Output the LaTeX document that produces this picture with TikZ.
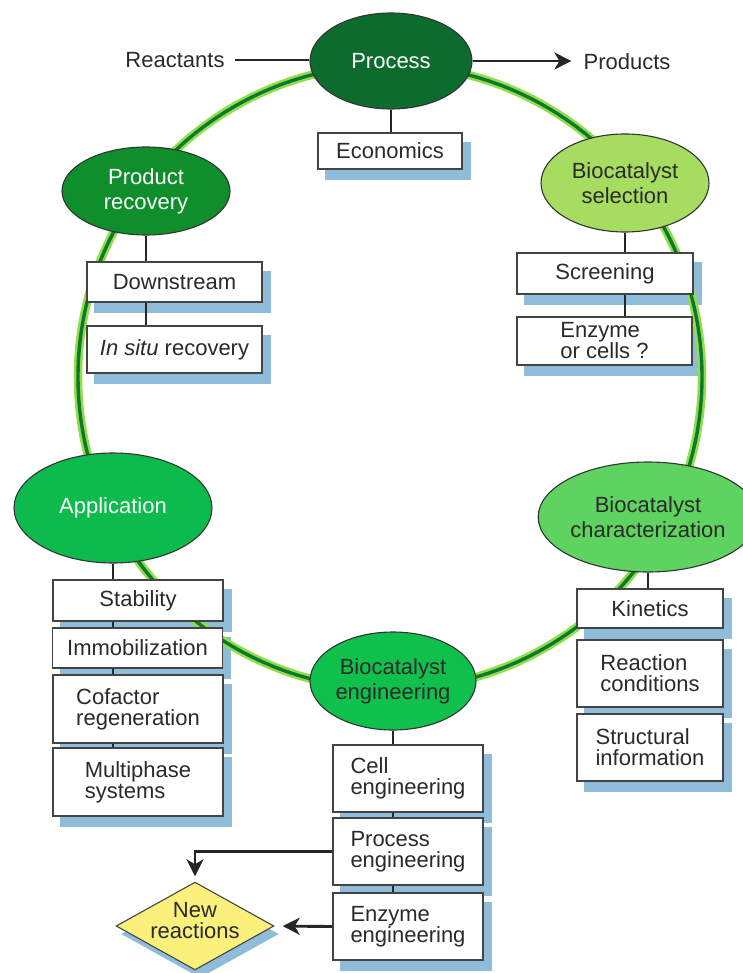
\documentclass[tikz,border=0pt]{standalone}
\usepackage{fontspec}
\setmainfont{Liberation Sans}
\usetikzlibrary{shapes.geometric,arrows.meta}
\pgfdeclarelayer{shadowlayer}
\pgfdeclarelayer{ringlayer}
\pgfsetlayers{shadowlayer,ringlayer,main}
\definecolor{procgreen}{HTML}{0C6B2D}
\definecolor{recgreen}{HTML}{0F8F2C}
\definecolor{selgreen}{HTML}{A6DD60}
\definecolor{chargreen}{HTML}{5ED35F}
\definecolor{appgreen}{HTML}{0CBB4B}
\definecolor{enggreen}{HTML}{10C04C}
\definecolor{ringlight}{HTML}{93DC4B}
\definecolor{ringdark}{HTML}{0B7A2C}
\definecolor{shadowblue}{HTML}{8EBCD9}
\definecolor{newyellow}{HTML}{FBF07C}
\definecolor{textgray}{HTML}{2A2A2A}
\definecolor{boxgray}{HTML}{444444}
\begin{document}
\begin{tikzpicture}[x=1pt,y=-1pt,
  txt/.style={font=\fontsize{22}{21}\selectfont, text=textgray, inner sep=0pt},
  bubble/.style={ellipse, draw=black!80, line width=1.1pt, inner sep=0pt, align=center,
    font=\fontsize{22}{25}\selectfont, text=textgray},
  box/.style={rectangle, draw=boxgray, line width=1.6pt, fill=white, inner sep=0pt,
    align=left, font=\fontsize{22}{21}\selectfont, text=textgray},
  link/.style={line width=2.9pt, draw=black!85},
  arr/.style={link, -{Stealth[length=17pt,width=17pt,inset=5pt]}}
]
\useasboundingbox (0,0) rectangle (742,973);

% ---- ellipses ----
\node[bubble, fill=procgreen, text=white, minimum width=162pt, minimum height=96pt] (process) at (391,61) {Process};
\node[bubble, fill=recgreen, text=white, minimum width=168pt, minimum height=88pt] (prodrec) at (146,191) {Product\\recovery};
\node[bubble, fill=selgreen, minimum width=168pt, minimum height=98pt] (select) at (625,183) {Biocatalyst\\selection};
\node[bubble, fill=chargreen, minimum width=190pt, minimum height=110pt] (charac) at (648,517) {Biocatalyst\\characterization};
\node[bubble, fill=appgreen, text=white, minimum width=198pt, minimum height=110pt] (applic) at (113,508) {Application};
\node[bubble, fill=enggreen, minimum width=166pt, minimum height=98pt] (bioeng) at (393,681) {Biocatalyst\\engineering};

% ---- side texts ----
\node[txt] (reactants) at (175,60) {Reactants};
\node[txt] (products) at (627,62) {Products};

% ---- boxes ----
\node[box, minimum width=144pt, minimum height=36pt] (econ) at (390,151) {Economics};
\node[box, minimum width=175pt, minimum height=40pt] (downstream) at (174.5,282) {Downstream};
\node[box, minimum width=175pt, minimum height=47pt] (insitu) at (174.5,349.5) {\textit{In situ} recovery};
\node[box, minimum width=176pt, minimum height=41pt] (screening) at (605,273.5) {Screening};
\node[box, minimum width=175pt, minimum height=48pt] (enzcells) at (604.5,341) {Enzyme\\or cells ?};
\node[box, minimum width=146pt, minimum height=39pt] (kinetics) at (650,608.5) {Kinetics};
\node[box, minimum width=146pt, minimum height=67pt] (reaccond) at (650,673.5) {Reaction\\conditions};
\node[box, minimum width=146pt, minimum height=67pt] (structinfo) at (650,747.5) {Structural\\information};
\node[box, minimum width=170pt, minimum height=41pt] (stability) at (138,600.5) {Stability};
\node[box, minimum width=170pt, minimum height=40pt] (immob) at (137.5,648) {Immobilization};
\node[box, minimum width=170pt, minimum height=68pt] (cofactor) at (138,709) {Cofactor\\regeneration};
\node[box, minimum width=170pt, minimum height=68pt] (multiphase) at (138,782) {Multiphase\\systems};
\node[box, minimum width=150pt, minimum height=67pt] (celleng) at (408,778.5) {Cell\\engineering};
\node[box, minimum width=150pt, minimum height=67pt] (proceng) at (408,851.5) {Process\\engineering};
\node[box, minimum width=150pt, minimum height=67pt] (enzeng) at (408,926.5) {Enzyme\\engineering};

% ---- diamond ----
\node[inner sep=0pt, minimum width=157pt, minimum height=87pt] (newreac) at (195,926) {};
\filldraw[fill=newyellow, draw=boxgray, line width=1.1pt]
  (newreac.north) -- (newreac.east) -- (newreac.south) -- (newreac.west) -- cycle;
\node[txt, align=center] (newreactext) at (195,921) {New\\reactions};

% ---- connectors ----
\coordinate (rstart) at ([xshift=10pt]reactants.east);
\draw[link] (rstart) -- (rstart -| process.west);
\draw[arr, shorten >=12pt] (process.east) -- (process.east -| products.west);
\draw[link] (process.south) -- (econ.north -| process.south);
\draw[link] (prodrec.south) -- (downstream.north -| prodrec.south);
\draw[link] (downstream.south -| prodrec.south) -- (insitu.north -| prodrec.south);
\draw[link] (select.south) -- (screening.north -| select.south);
\draw[link] (screening.south -| select.south) -- (enzcells.north -| select.south);
\draw[link] (charac.south) -- (kinetics.north -| charac.south);
\draw[link] (applic.south) -- (stability.north -| applic.south);
\draw[link] (stability.south -| applic.south) -- (immob.north -| applic.south);
\draw[link] (immob.south -| applic.south) -- (cofactor.north -| applic.south);
\draw[link] (cofactor.south -| applic.south) -- (multiphase.north -| applic.south);
\draw[link] (bioeng.south) -- (celleng.north -| bioeng.south);
\draw[link] (celleng.south -| bioeng.south) -- (proceng.north -| bioeng.south);
\draw[link] (proceng.south -| bioeng.south) -- (enzeng.north -| bioeng.south);
\draw[arr, shorten >=6pt] (proceng.west) -| (newreac.north);
\draw[arr, shorten >=9pt] (enzeng.west) -- (newreac.east);

% ---- ring ----
\begin{pgfonlayer}{ringlayer}
  \coordinate (ringc) at (390,377);
  \draw[ringlight, line width=8.5pt] (ringc) circle [radius=312];
  \draw[ringdark, line width=3.4pt] (ringc) circle [radius=312];
\end{pgfonlayer}

% ---- shadows ----
\begin{pgfonlayer}{shadowlayer}
  \foreach \n in {econ,downstream,insitu,screening,enzcells,kinetics,reaccond,structinfo,
                  stability,immob,cofactor,multiphase,celleng,proceng,enzeng}{
    \fill[shadowblue] ([shift={(8,10)}]\n.south west) rectangle ([shift={(8,10)}]\n.north east);
  }
  \fill[shadowblue] ([shift={(5,8)}]newreac.north) -- ([shift={(5,8)}]newreac.east)
    -- ([shift={(5,8)}]newreac.south) -- ([shift={(5,8)}]newreac.west) -- cycle;
\end{pgfonlayer}
\end{tikzpicture}
\end{document}
